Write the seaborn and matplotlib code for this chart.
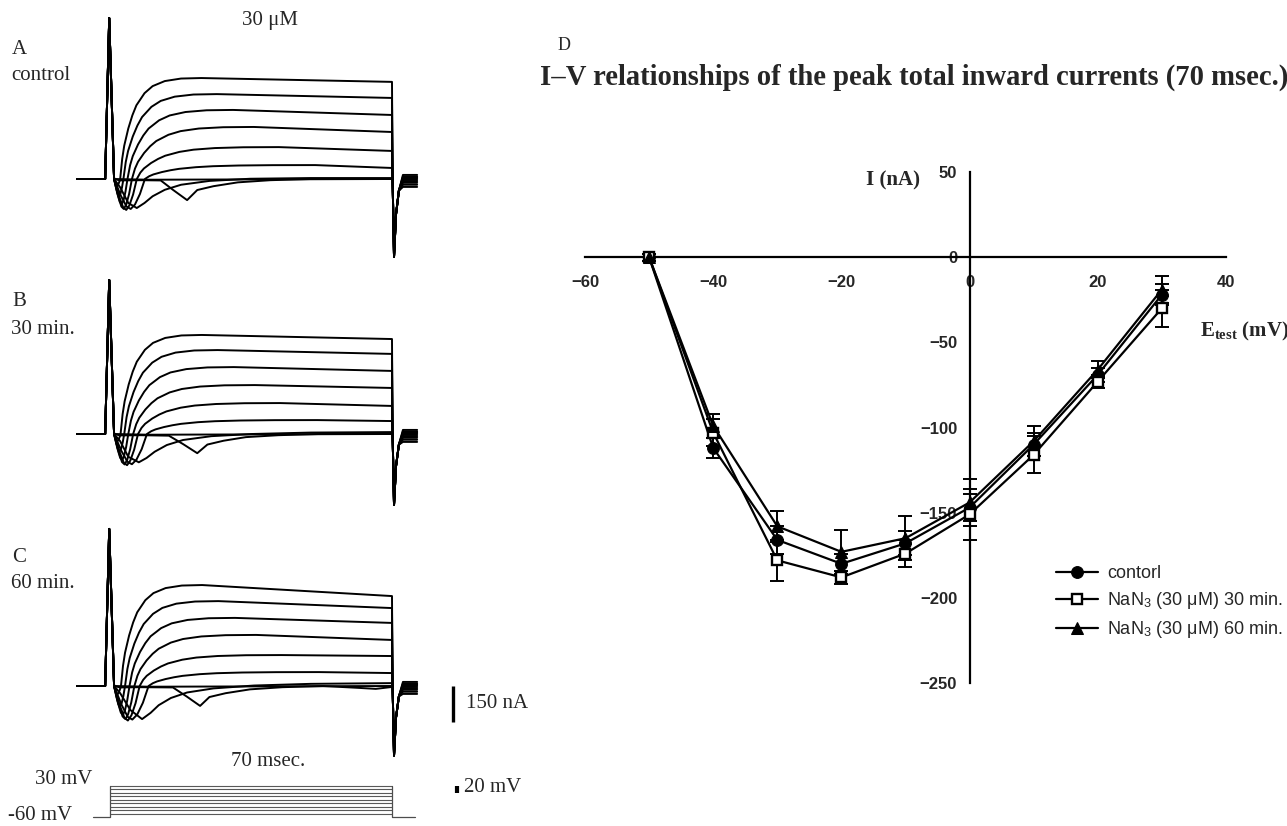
import numpy as np
import matplotlib
matplotlib.use("Agg")
import matplotlib.pyplot as plt
import seaborn as sns

# ---------------- DATA: I-V relationship (panel D) ----------------
VOLT = [-50, -40, -30, -20, -10, 0, 10, 20, 30]
CONTROL = [0, -112, -166, -180, -168, -147, -110, -69, -22]
CONTROL_SEM = [2, 6, 8, 6, 7, 8, 7, 4, 6]
NAN30 = [0, -103, -178, -188, -174, -151, -116, -73, -30]
NAN30_SEM = [2, 8, 12, 4, 8, 15, 11, 4, 11]
NAN60 = [0, -99, -158, -173, -165, -144, -108, -66, -19]
NAN60_SEM = [2, 7, 9, 13, 13, 14, 9, 5, 8]
SERIES_LABELS = ["contorl", r"NaN$_{\mathsf{3}}$ (30 μM) 30 min.", r"NaN$_{\mathsf{3}}$ (30 μM) 60 min."]
X_TICKS = [-60, -40, -20, 0, 20, 40]
Y_TICKS = [-250, -200, -150, -100, -50, 0, 50]

# ---------------- DATA: current traces (ms, nA), panels A/B/C ----------------
# outward traces for steps 30, 20, 10, 0, -10, -20 mV
A_PEAK = [421, 354, 288, 217, 133, 58]
A_END = [405, 338, 267, 196, 117, 46]
A_TMIN = [2.2, 2.8, 3.4, 3.9, 4.5, 5.6]
A_DIP = [-30, -70, -105, -125, -129, -125]
A_TCROSS = [3.0, 3.8, 4.8, 5.9, 7.1, 9.1]
A_M30_T = [1.5, 3.0, 5.0, 7.1, 9.0, 11.0, 14.0, 18.0, 25.0, 35.0, 50.0, 70.0]
A_M30_I = [0, -35, -100, -121, -100, -72, -45, -24, -8, 1, 4, 4]
A_M40_T = [1.5, 3.0, 8.0, 13.0, 16.0, 19.5, 22.0, 26.0, 32.0, 40.0, 50.0, 70.0]
A_M40_I = [0, -6, -5, -6, -45, -88, -46, -30, -14, -5, 0, 0]
A_SPIKE = 671
A_TAIL_MIN = -325

B_PEAK = [413, 350, 279, 204, 129, 58]
B_END = [396, 334, 263, 192, 117, 54]
B_TMIN = [2.3, 2.9, 3.5, 4.1, 4.7, 5.9]
B_DIP = [-30, -72, -108, -127, -130, -126]
B_TCROSS = [3.1, 4.0, 5.0, 6.2, 7.4, 9.6]
B_M30_T = [1.5, 3.0, 5.0, 7.6, 9.5, 11.5, 14.5, 18.5, 25.5, 35.5, 50.0, 70.0]
B_M30_I = [0, -30, -95, -118, -100, -74, -46, -25, -9, 0, 6, 8]
B_M40_T = [1.5, 3.0, 8.0, 15.0, 18.5, 22.0, 24.5, 28.5, 34.0, 42.0, 52.0, 70.0]
B_M40_I = [0, -6, -5, -7, -42, -80, -44, -28, -13, -5, 0, 0]
B_SPIKE = 642
B_TAIL_MIN = -296

C_PEAK = [421, 354, 284, 213, 129, 58]
C_END = [375, 325, 263, 192, 125, 54]
C_TMIN = [2.3, 3.0, 3.7, 4.3, 4.9, 6.0]
C_DIP = [-35, -85, -120, -138, -144, -140]
C_TCROSS = [3.2, 4.2, 5.3, 6.5, 7.8, 10.0]
C_M30_T = [1.5, 3.0, 5.5, 8.4, 10.5, 12.5, 15.5, 19.5, 26.0, 36.0, 50.0, 70.0]
C_M30_I = [0, -30, -100, -138, -112, -80, -50, -27, -10, 2, 9, 12]
C_M40_T = [1.5, 3.0, 8.0, 16.0, 19.5, 22.7, 25.0, 29.0, 35.0, 43.0, 53.0, 62.0, 66.0, 70.0]
C_M40_I = [0, -6, -5, -6, -45, -83, -46, -30, -14, -5, 0, -8, -12, -4]
C_SPIKE = 655
C_TAIL_MIN = -290

M50_T = [1.5, 10.0, 70.0]
M50_I = [0, -3, 0]
TAIL_LEVEL = [17, 11, 6, 1, -4, -9, -16, -24, -33]   # 30 ... -50 mV

# shape profiles
DIP_U = [0.4, 0.75, 1.0, 1.3, 1.65, 2.0]
DIP_FRAC = [0.55, 0.92, 1.0, 0.85, 0.5, 0.0]
RISE_DT = [0.5, 1, 2, 3, 4, 6, 8, 11, 15, 20]
RISE_FRAC = [0.2, 0.33, 0.5, 0.63, 0.73, 0.85, 0.92, 0.97, 0.995, 1.0]
RISE_SCALE = [1.0, 1.15, 1.3, 1.5, 1.75, 2.1]       # slower rise for smaller steps
TAIL_DT = [0.15, 0.5, 1.0, 1.7]
TAIL_FRAC = [0.0, 1.0, 0.45, 0.15]

# voltage protocol
STEP_LEVELS = [-50, -40, -30, -20, -10, 0, 10, 20, 30]
HOLD = -60
STEP_DUR = 70

# ---------------- figure ----------------
W, H = 1287, 826
sns.set_theme(style="white")
plt.rcParams["font.family"] = ["Liberation Serif", "DejaVu Serif"]
plt.rcParams["mathtext.fontset"] = "custom"
plt.rcParams["mathtext.rm"] = "Liberation Serif"
plt.rcParams["mathtext.bf"] = "Liberation Serif:bold"
plt.rcParams["mathtext.it"] = "Liberation Serif:italic"
plt.rcParams["mathtext.sf"] = "Liberation Sans"

fig = plt.figure(figsize=(W / 100, H / 100), dpi=100)
fig.patch.set_facecolor("white")


def px_axes(x0, y0, x1, y1):
    return fig.add_axes([x0 / W, 1 - y1 / H, (x1 - x0) / W, (y1 - y0) / H])


def ftext(x, y, s, **kw):
    fig.text(x / W, 1 - y / H, s, **kw)


# time mapping: px = 108 + 4.057 * t ; current: 4.17 nA per px
T0, TPX = 108.0, 4.057
NA_PX = 4.17
t_lo, t_hi = -10.0, 80.0
ax_x0 = T0 + t_lo * TPX
ax_x1 = T0 + t_hi * TPX
BASE_OFF = 179   # baseline from axes top (px)
PANEL_H = 260


def add_tail(t, i, end, tail_min, lvl):
    t.append(70.0)
    i.append(end)
    for dt, f in zip(TAIL_DT, TAIL_FRAC):
        t.append(70.0 + dt)
        i.append(f * tail_min)
    t += [72.7, 76.2]
    i += [lvl, lvl]
    return t, i


def spike_part(S):
    return [-7.6, -0.7, 0.3], [0, 0, S]


def draw_panel(top_px, peak, end, tmin, dip, tcross, m30t, m30i, m40t, m40i, S, tail_min):
    ax = px_axes(ax_x0, top_px, ax_x1, top_px + PANEL_H)
    traces = []
    for k in range(len(peak)):
        t, i = spike_part(S)
        t.append(1.5)
        i.append(0)
        for u, f in zip(DIP_U, DIP_FRAC):
            tt = 1.5 + u * (tmin[k] - 1.5) if u <= 1 else tmin[k] + (u - 1) * (tcross[k] - tmin[k])
            t.append(tt)
            i.append(f * dip[k])
        for dt, f in zip(RISE_DT, RISE_FRAC):
            t.append(tcross[k] + dt * RISE_SCALE[k])
            i.append(f * peak[k])
        t, i = add_tail(t, i, end[k], tail_min, TAIL_LEVEL[k])
        traces.append((t, i))
    for (st, si), lvl in zip([(m30t, m30i), (m40t, m40i), (M50_T, M50_I)], TAIL_LEVEL[6:]):
        t, i = spike_part(S)
        t += list(st[:-1])
        i += list(si[:-1])
        t, i = add_tail(t, i, si[-1], tail_min, lvl)
        traces.append((t, i))
    for t, i in traces:
        sns.lineplot(x=t, y=i, ax=ax, sort=False, estimator=None, color="black",
                     linewidth=1.4, legend=False)
    ax.set_xlim(t_lo, t_hi)
    ax.set_ylim(-(PANEL_H - BASE_OFF) * NA_PX, BASE_OFF * NA_PX)
    ax.axis("off")
    return ax


axA = draw_panel(0, A_PEAK, A_END, A_TMIN, A_DIP, A_TCROSS, A_M30_T, A_M30_I, A_M40_T, A_M40_I, A_SPIKE, A_TAIL_MIN)
axB = draw_panel(255, B_PEAK, B_END, B_TMIN, B_DIP, B_TCROSS, B_M30_T, B_M30_I, B_M40_T, B_M40_I, B_SPIKE, B_TAIL_MIN)
axC = draw_panel(507, C_PEAK, C_END, C_TMIN, C_DIP, C_TCROSS, C_M30_T, C_M30_I, C_M40_T, C_M40_I, C_SPIKE, C_TAIL_MIN)

# 150 nA scale bar (in panel C data units)
axC.plot([85, 85], [0, -150], color="black", lw=2.4, clip_on=False, solid_capstyle="butt")

# voltage protocol: -60 mV at px 817
MV_PX = 0.35
pr_top, pr_bot = 770, 826
axP = px_axes(ax_x0, pr_top, ax_x1, pr_bot)
axP.set_xlim(t_lo, t_hi)
axP.set_ylim(HOLD - (pr_bot - 817) / MV_PX, HOLD + (817 - pr_top) / MV_PX)
axP.axis("off")
for v in STEP_LEVELS:
    axP.plot([0.4, STEP_DUR], [v, v], color="0.35", lw=0.8)
axP.plot([-3.7, 0.4, 0.4], [HOLD, HOLD, max(STEP_LEVELS)], color="0.3", lw=0.9)
axP.plot([STEP_DUR, STEP_DUR, 75.6], [max(STEP_LEVELS), HOLD, HOLD], color="0.3", lw=0.9)
axP.plot([86, 86], [30, 10], color="black", lw=3, clip_on=False, solid_capstyle="butt")

# left labels
fs = 15
ftext(12, 50, "A", fontsize=fs, va="center")
ftext(11, 75, "control", fontsize=fs, va="center")
ftext(270, 20, "30 μM", fontsize=fs, va="center", ha="center")
ftext(12, 302, "B", fontsize=fs, va="center")
ftext(11, 329, "30 min.", fontsize=fs, va="center")
ftext(12, 557, "C", fontsize=fs, va="center")
ftext(11, 583, "60 min.", fontsize=fs, va="center")
ftext(466, 704, "150 nA", fontsize=fs, va="center")
ftext(268, 762, "70 msec.", fontsize=fs, va="center", ha="center")
ftext(35, 779, "30 mV", fontsize=fs, va="center")
ftext(8, 815, "-60 mV", fontsize=fs, va="center")
ftext(464, 787, "20 mV", fontsize=fs, va="center")

# ---------------- panel D ----------------
ftext(558, 45, "D", fontsize=13, va="center")
ftext(540, 77, "I–V relationships of the peak total inward currents (70 msec.)",
      fontsize=20.6, fontweight="bold", va="center")

ax = px_axes(585, 172, 1226, 683)
ax.set_xlim(-60, 40)
ax.set_ylim(-250, 50)
for side in ["top", "right"]:
    ax.spines[side].set_visible(False)
ax.spines["left"].set_position(("data", 0))
ax.spines["bottom"].set_position(("data", 0))
for side in ["left", "bottom"]:
    ax.spines[side].set_linewidth(1.6)
    ax.spines[side].set_color("black")
ax.set_xticks(X_TICKS)
ax.set_yticks(Y_TICKS)
ax.tick_params(axis="x", direction="out", length=5, width=1.5, pad=8)
ax.tick_params(axis="y", direction="out", length=5, width=1.5, pad=4)
for lab in ax.get_xticklabels() + ax.get_yticklabels():
    lab.set_fontfamily(["Liberation Sans", "DejaVu Sans"])
    lab.set_fontweight("bold")
    lab.set_fontsize(12)
ax.patch.set_alpha(0)

styles = [
    (CONTROL, CONTROL_SEM, dict(marker="o", markersize=8.5, markerfacecolor="black")),
    (NAN30, NAN30_SEM, dict(marker="s", markersize=7.5, markerfacecolor="white", markeredgewidth=1.7)),
    (NAN60, NAN60_SEM, dict(marker="^", markersize=9, markerfacecolor="black")),
]
for (vals, sem, st), lab in zip(styles, SERIES_LABELS):
    ax.errorbar(VOLT, vals, yerr=sem, fmt="none", ecolor="black", elinewidth=1.4,
                capsize=5, capthick=1.4, zorder=2)
for (vals, sem, st), lab in zip(styles, SERIES_LABELS):
    sns.lineplot(x=VOLT, y=vals, ax=ax, color="black", linewidth=1.6,
                 markeredgecolor="black", label=lab, zorder=3, clip_on=False, **st)
h, l = ax.get_legend_handles_labels()
if ax.legend_:
    ax.legend_.remove()
fig.legend(h, l, loc="upper left", bbox_to_anchor=(1056 / W, 1 - 565 / H),
           frameon=False, borderaxespad=0, borderpad=0, handlelength=2.3,
           handletextpad=0.55, labelspacing=0.45, numpoints=1,
           prop={"family": "Liberation Sans", "size": 13})
ax.set_xlabel("")
ax.set_ylabel("")

ftext(893, 180, "I (nA)", fontsize=15, fontweight="bold", va="center", ha="center")
ftext(1200, 331, r"E$_{\mathbf{test}}$ (mV)", fontsize=15, fontweight="bold", va="center")

fig.savefig("out.png", dpi=100, facecolor="white")
